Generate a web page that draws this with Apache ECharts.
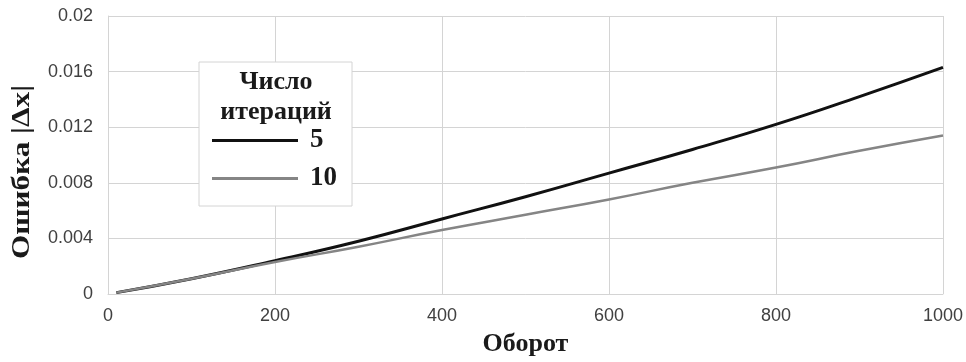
<!DOCTYPE html>
<html><head><meta charset="utf-8">
<script src="https://cdn.jsdelivr.net/npm/echarts@6/dist/echarts.min.js"></script>
<style>html,body{margin:0;padding:0;background:#fff}#c{width:966px;height:362px}</style>
</head><body><div id="c"></div>
<script>
const xValues = [10, 100, 200, 300, 400, 500, 600, 700, 800, 900, 1000];
const iter5 = [0.0001, 0.0011, 0.0024, 0.0038, 0.0054, 0.0070, 0.0087, 0.0104, 0.0122, 0.0142, 0.0163];
const iter10 = [0.0001, 0.0011, 0.0023, 0.0034, 0.0046, 0.0057, 0.0068, 0.0080, 0.0091, 0.0103, 0.0114];
const seriesNames = ['5', '10'];
const legendTitle = 'Число\nитераций';
const xTitle = 'Оборот';
const yTitle = 'Ошибка |Δx|';

const chart = echarts.init(document.getElementById('c'), null, {renderer: 'canvas'});
const serif = '"Liberation Serif", "DejaVu Serif", serif';
const sans = '"Liberation Sans", Arial, sans-serif';
chart.setOption({
  animation: false,
  backgroundColor: '#fff',
  grid: {left: 108, right: 23, top: 16, bottom: 66, containLabel: false},
  xAxis: {
    type: 'value', min: 0, max: 1000, interval: 200,
    name: xTitle, nameLocation: 'middle', nameGap: 37,
    nameTextStyle: {fontFamily: serif, fontWeight: 'bold', fontSize: 26, color: '#1a1a1a'},
    axisLine: {show: true, lineStyle: {color: '#d4d4d4', width: 1}},
    axisTick: {show: false},
    axisLabel: {fontFamily: sans, fontSize: 18, color: '#404040', margin: 13,
      formatter: v => String(v)},
    splitLine: {show: true, lineStyle: {color: '#d4d4d4', width: 1}}
  },
  yAxis: {
    type: 'value', min: 0, max: 0.02, interval: 0.004,
    axisLine: {show: true, lineStyle: {color: '#d4d4d4', width: 1}},
    axisTick: {show: false},
    axisLabel: {fontFamily: sans, fontSize: 18, color: '#404040', margin: 15,
      formatter: v => String(parseFloat(v.toFixed(3)))},
    splitLine: {show: true, lineStyle: {color: '#d4d4d4', width: 1}}
  },
  legend: {
    left: 212, top: 127, orient: 'vertical', itemGap: 11, padding: 0, z: 10,
    itemWidth: 86, itemHeight: 3, icon: 'rect',
    data: seriesNames,
    textStyle: {fontFamily: serif, fontWeight: 'bold', fontSize: 27, lineHeight: 26,
      color: '#1a1a1a', padding: [0, 0, 0, 7]}
  },
  graphic: [
    {type: 'rect', shape: {x: 199, y: 62, width: 153, height: 144},
     style: {fill: '#fff', stroke: '#d4d4d4', lineWidth: 1}, z: 5},
    {type: 'text', z: 6,
     style: {text: legendTitle, x: 276, y: 67, fontFamily: serif, fontWeight: 'bold', fontSize: 26,
       fill: '#1a1a1a', align: 'center', lineHeight: 30}},
    {type: 'text', z: 6, x: 22, y: 172, rotation: Math.PI / 2, scaleX: 1.2,
     style: {text: yTitle, x: 0, y: 0, fontFamily: serif, fontWeight: 'bold', fontSize: 26,
       fill: '#1a1a1a', align: 'center', verticalAlign: 'middle'}}
  ],
  series: [
    {name: seriesNames[0], type: 'line', data: xValues.map((x, i) => [x, iter5[i]]),
     smooth: true, showSymbol: false, symbol: 'none', lineStyle: {color: '#111', width: 3}, itemStyle: {color: '#111'}},
    {name: seriesNames[1], type: 'line', data: xValues.map((x, i) => [x, iter10[i]]),
     smooth: true, showSymbol: false, symbol: 'none', lineStyle: {color: '#858585', width: 2.5}, itemStyle: {color: '#858585'}}
  ]
});
</script></body></html>
